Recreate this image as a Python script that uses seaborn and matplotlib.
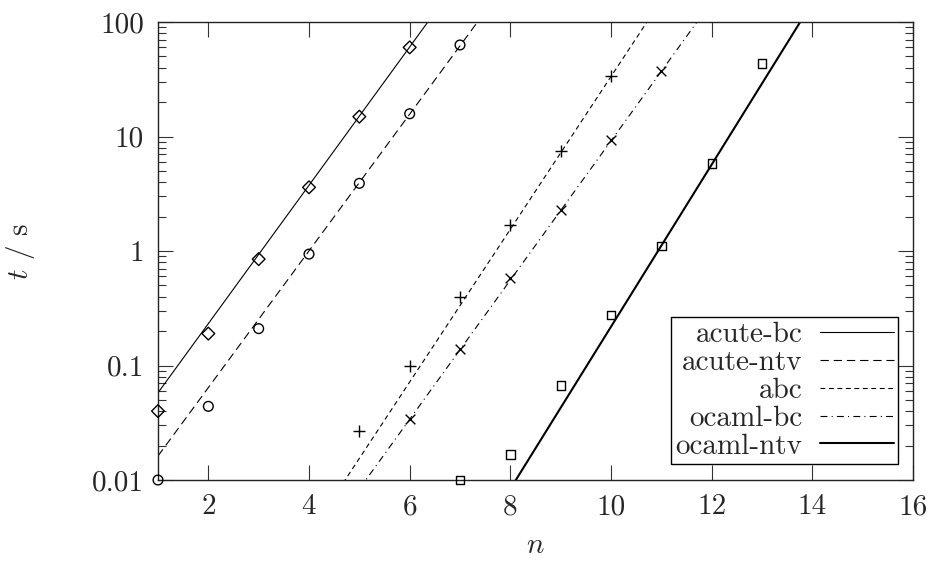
import numpy as np
import pandas as pd
import matplotlib
matplotlib.use("Agg")
import matplotlib.pyplot as plt
import seaborn as sns

# -----------------------------
# DATA
# -----------------------------
series = ["acute-bc", "acute-ntv", "abc", "ocaml-bc", "ocaml-ntv"]

n_acute_bc = [1, 2, 3, 4, 5, 6]
t_acute_bc = [0.040, 0.19, 0.85, 3.6, 14.9, 60.0]

n_acute_ntv = [1, 2, 3, 4, 5, 6, 7]
t_acute_ntv = [0.010, 0.044, 0.21, 0.94, 3.9, 15.8, 63.0]

n_abc = [5, 6, 7, 8, 9, 10]
t_abc = [0.027, 0.10, 0.40, 1.68, 7.4, 34.0]

n_ocaml_bc = [6, 7, 8, 9, 10, 11]
t_ocaml_bc = [0.034, 0.138, 0.58, 2.28, 9.3, 37.5]

n_ocaml_ntv = [7, 8, 9, 10, 11, 12, 13]
t_ocaml_ntv = [0.010, 0.0167, 0.067, 0.275, 1.11, 5.8, 43.5]

# fitted exponential lines: log10(t) = intercept + slope * n
fit_intercept = [-1.842, -2.387, -5.146, -5.118, -7.741]
fit_slope = [0.604, 0.597, 0.667, 0.608, 0.708]

points = {
    "acute-bc": (n_acute_bc, t_acute_bc),
    "acute-ntv": (n_acute_ntv, t_acute_ntv),
    "abc": (n_abc, t_abc),
    "ocaml-bc": (n_ocaml_bc, t_ocaml_bc),
    "ocaml-ntv": (n_ocaml_ntv, t_ocaml_ntv),
}

# -----------------------------
# STYLE
# -----------------------------
sns.set_style("ticks")
plt.rcParams["font.family"] = "serif"
plt.rcParams["font.serif"] = ["cmr10", "DejaVu Serif"]
plt.rcParams["mathtext.fontset"] = "cm"
plt.rcParams["axes.unicode_minus"] = False
plt.rcParams["lines.scale_dashes"] = False

FS = 21

markers = {"acute-bc": "D", "acute-ntv": "o", "abc": "+", "ocaml-bc": "x", "ocaml-ntv": "s"}
msizes = {"acute-bc": 6.5, "acute-ntv": 7, "abc": 9, "ocaml-bc": 7, "ocaml-ntv": 6}
lstyles = {
    "acute-bc": "-",
    "acute-ntv": (0, (6, 3.5)),
    "abc": (0, (3.5, 2.6)),
    "ocaml-bc": (0, (5, 3, 0.8, 3)),
    "ocaml-ntv": "-",
}
lwidths = {"acute-bc": 0.8, "acute-ntv": 0.8, "abc": 0.8, "ocaml-bc": 0.8, "ocaml-ntv": 1.5}

fig = plt.figure(figsize=(9.31, 5.67), dpi=100)
ax = fig.add_axes([0.1697, 0.1534, 0.811, 0.8078])

# -----------------------------
# FIT LINES
# -----------------------------
n_grid = np.linspace(1, 16, 200)
handles = []
for name, a, b in zip(series, fit_intercept, fit_slope):
    line_df = pd.DataFrame({"n": n_grid, "t": 10 ** (a + b * n_grid)})
    sns.lineplot(data=line_df, x="n", y="t", ax=ax, color="black",
                 linewidth=lwidths[name], linestyle=lstyles[name], label=name)
    handles.append(ax.lines[-1])

# -----------------------------
# DATA POINTS
# -----------------------------
for name in series:
    n, t = points[name]
    pts = pd.DataFrame({"n": n, "t": t})
    m = markers[name]
    if m in ("+", "x"):
        sns.scatterplot(data=pts, x="n", y="t", ax=ax, marker=m, color="black",
                        s=msizes[name] ** 2, linewidth=1.0, clip_on=False, zorder=3)
    else:
        sns.scatterplot(data=pts, x="n", y="t", ax=ax, marker=m, facecolor="none",
                        edgecolor="black", s=msizes[name] ** 2, linewidth=1.0,
                        clip_on=False, zorder=3)

# -----------------------------
# AXES
# -----------------------------
ax.set_yscale("log")
ax.set_xlim(1, 16)
ax.set_ylim(0.01, 100)
ax.set_xticks([2, 4, 6, 8, 10, 12, 14, 16])
ax.set_xticklabels(["2", "4", "6", "8", "10", "12", "14", "16"])
ax.set_yticks([0.01, 0.1, 1, 10, 100])
ax.set_yticklabels(["0.01", "0.1", "1", "10", "100"])
ax.tick_params(which="major", direction="in", length=11, width=0.8,
               top=True, right=True, labelsize=FS, pad=10, color="#333333")
ax.tick_params(which="minor", direction="in", length=6, width=0.8,
               top=False, right=True, color="#333333")
ax.tick_params(axis="x", which="minor", bottom=False, top=False)
for sp in ax.spines.values():
    sp.set_linewidth(1.0)
    sp.set_color("#222222")

ax.set_xlabel("$n$", fontsize=FS, labelpad=9)
ax.set_ylabel("$t$ / s", fontsize=FS, labelpad=40)

leg = ax.legend(handles=handles, labels=series, loc="lower right",
                bbox_to_anchor=(0.9807, 0.035), markerfirst=False,
                frameon=True, fancybox=False, framealpha=1, edgecolor="black",
                fontsize=FS, handlelength=2.55, labelspacing=0.05,
                borderpad=0.15, handletextpad=0.6, borderaxespad=0)
leg.get_frame().set_linewidth(1.0)

fig.savefig("out.png", dpi=100)
